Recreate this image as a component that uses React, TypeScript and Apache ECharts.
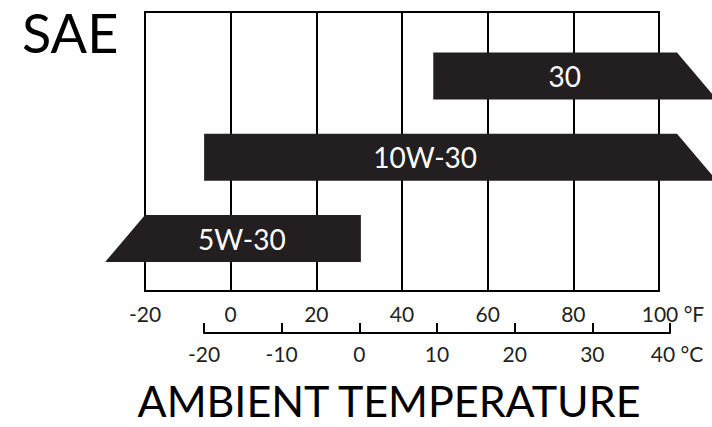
import React, { useEffect, useRef } from "react";
import * as echarts from "echarts";

// SAE viscosity grades and their temperature ranges (°F)
const grades = ["5W-30", "10W-30", "30"];
const rows = [0, 1, 2];
const lowTopF = [-20, -6.2, 47.3];
const lowBottomF = [-29.3, -6.2, 47.3];
const highTopF = [30.4, 104.2, 104.2];
const highBottomF = [30.4, 113.5, 113.5];
const labelAtF = [2.6, 45.4, 78.0];

// axis ticks
const fahrenheitTicks = [-20, 0, 20, 40, 60, 80, 100];
const celsiusTicks = [-20, -10, 0, 10, 20, 30, 40];

const FONT = "Lato, 'Noto Sans', sans-serif";
const INK = "#231f20";

export default function App() {
  const ref = useRef<HTMLDivElement>(null);

  useEffect(() => {
    if (!ref.current) return;
    const chart = echarts.init(ref.current, undefined, { renderer: "svg" });
    const H = 0.289;
    const fMax = fahrenheitTicks[fahrenheitTicks.length - 1];
    const cMax = celsiusTicks[celsiusTicks.length - 1];

    const data = rows.map((r, i) => [
      lowTopF[i],
      highTopF[i],
      lowBottomF[i],
      highBottomF[i],
      r,
      labelAtF[i],
      i,
    ]);

    chart.setOption({
      animation: false,
      backgroundColor: "#ffffff",
      grid: [
        {
          left: 145,
          right: 53,
          top: 12,
          bottom: 136,
          show: true,
          borderColor: "#000",
          borderWidth: 2,
          backgroundColor: "transparent",
        },
        { left: 204, right: 42, top: 300, bottom: 94 },
      ],
      xAxis: [
        {
          type: "value",
          gridIndex: 0,
          min: fahrenheitTicks[0],
          max: fMax,
          interval: 20,
          axisLine: { show: false },
          axisTick: { show: false },
          splitLine: { show: true, lineStyle: { color: "#000", width: 2 } },
          axisLabel: {
            margin: 12,
            color: INK,
            fontSize: 21,
            fontFamily: FONT,
            formatter: (v: number) => (v === fMax ? `{u|${v} °F}` : `${v}`),
            rich: {
              u: {
                fontSize: 21,
                fontFamily: FONT,
                color: INK,
                padding: [0, 0, 0, 28],
              },
            },
          },
        },
        {
          type: "value",
          gridIndex: 1,
          min: celsiusTicks[0],
          max: cMax,
          interval: 10,
          axisLine: { show: true, lineStyle: { color: "#000", width: 2 } },
          axisTick: {
            show: true,
            inside: true,
            length: 10,
            lineStyle: { color: "#000", width: 2 },
          },
          splitLine: { show: false },
          axisLabel: {
            margin: 10,
            color: INK,
            fontSize: 21,
            fontFamily: FONT,
            formatter: (v: number) => (v === cMax ? `{u|${v} °C}` : `${v}`),
            rich: {
              u: {
                fontSize: 21,
                fontFamily: FONT,
                color: INK,
                padding: [0, 0, 0, 14],
              },
            },
          },
        },
      ],
      yAxis: [
        {
          type: "value",
          gridIndex: 0,
          min: -0.646,
          max: 2.788,
          show: false,
          splitLine: { show: false },
        },
        { type: "value", gridIndex: 1, show: false, splitLine: { show: false } },
      ],
      graphic: [
        {
          type: "text",
          x: 22,
          y: 32,
          style: {
            text: "SAE",
            fontSize: 54,
            fontFamily: FONT,
            fill: "#000",
            align: "left",
            verticalAlign: "middle",
          },
        },
        {
          type: "text",
          x: 389,
          y: 400,
          style: {
            text: "AMBIENT TEMPERATURE",
            fontSize: 43,
            fontFamily: FONT,
            fill: "#000",
            align: "center",
            verticalAlign: "middle",
          },
        },
      ],
      series: [
        {
          type: "custom",
          xAxisIndex: 0,
          yAxisIndex: 0,
          clip: false,
          encode: { x: [0, 1, 2, 3, 5], y: 4 },
          data,
          renderItem: (params: any, api: any) => {
            const v = api.value(4);
            const tl = api.coord([api.value(0), v + H]);
            const tr = api.coord([api.value(1), v + H]);
            const bl = api.coord([api.value(2), v - H]);
            const br = api.coord([api.value(3), v - H]);
            const lp = api.coord([api.value(5), v]);
            const idx = api.value(6);
            return {
              type: "group",
              children: [
                {
                  type: "polygon",
                  shape: { points: [tl, tr, br, bl] },
                  style: { fill: INK },
                },
                {
                  type: "text",
                  style: {
                    text: grades[idx],
                    x: lp[0],
                    y: lp[1],
                    align: "center",
                    verticalAlign: "middle",
                    fill: "#ffffff",
                    fontSize: 28,
                    fontFamily: FONT,
                  },
                },
              ],
            };
          },
        },
      ],
    });

    return () => chart.dispose();
  }, []);

  return (
    <div
      ref={ref}
      style={{ position: "absolute", left: 0, top: 0, width: 712, height: 427 }}
    />
  );
}
